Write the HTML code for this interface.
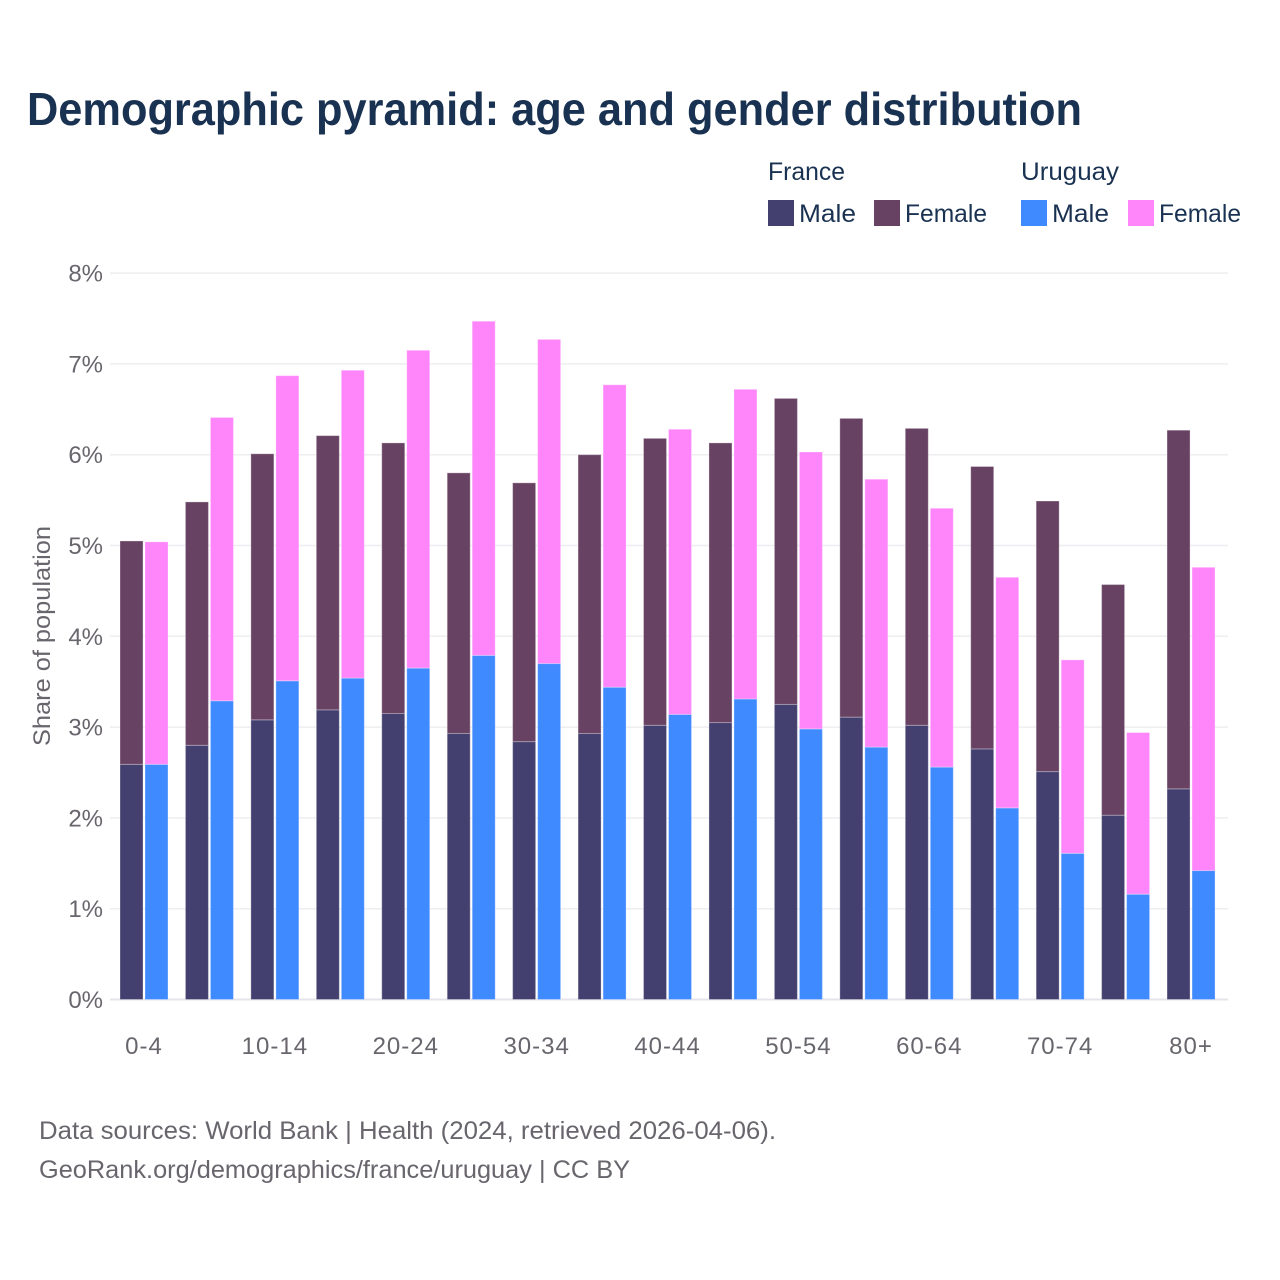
<!DOCTYPE html>
<html lang="en">
<head>
<meta charset="utf-8">
<title>Demographic pyramid</title>
<style>
html,body{margin:0;padding:0;background:#fff;width:1280px;height:1280px;overflow:hidden}
svg{display:block}
text{font-family:"Liberation Sans",sans-serif}
.ink{fill:#1a3252}
.muted{fill:#69656d}
</style>
</head>
<body>
<svg id="chart" width="1280" height="1280" viewBox="0 0 1280 1280" xmlns="http://www.w3.org/2000/svg">
  <rect width="1280" height="1280" fill="#ffffff"/>
  <text class="ink" x="27" y="125" font-size="46" font-weight="700" textLength="1055" lengthAdjust="spacingAndGlyphs">Demographic pyramid: age and gender distribution</text>

  <g>
    <text class="ink" x="768" y="180" font-size="25" textLength="77" lengthAdjust="spacingAndGlyphs">France</text>
    <text class="ink" x="1021" y="180" font-size="25" textLength="98" lengthAdjust="spacingAndGlyphs">Uruguay</text>
    <rect x="768" y="200" width="26" height="26" fill="#43406f"/>
    <text class="ink" x="799" y="222" font-size="25" textLength="57" lengthAdjust="spacingAndGlyphs">Male</text>
    <rect x="874" y="200" width="26" height="26" fill="#684263"/>
    <text class="ink" x="905" y="222" font-size="25" textLength="82" lengthAdjust="spacingAndGlyphs">Female</text>
    <rect x="1021" y="200" width="26" height="26" fill="#408aff"/>
    <text class="ink" x="1052" y="222" font-size="25" textLength="57" lengthAdjust="spacingAndGlyphs">Male</text>
    <rect x="1128" y="200" width="26" height="26" fill="#ff85fa"/>
    <text class="ink" x="1159" y="222" font-size="25" textLength="82" lengthAdjust="spacingAndGlyphs">Female</text>
  </g>

  <g id="grid"></g>
  <g id="y-ticks"></g>
  <text class="muted" transform="translate(50,636) rotate(-90)" text-anchor="middle" font-size="24" textLength="220" lengthAdjust="spacingAndGlyphs">Share of population</text>
  <g id="bars"></g>
  <g id="x-ticks"></g>

  <text class="muted" x="39" y="1139" font-size="25" textLength="737" lengthAdjust="spacingAndGlyphs">Data sources: World Bank | Health (2024, retrieved 2026-04-06).</text>
  <text class="muted" x="39" y="1178" font-size="25" textLength="591" lengthAdjust="spacingAndGlyphs">GeoRank.org/demographics/france/uruguay | CC BY</text>
</svg>
<script>
const ageGroups = ["0-4","5-9","10-14","15-19","20-24","25-29","30-34","35-39","40-44","45-49","50-54","55-59","60-64","65-69","70-74","75-79","80+"];
const franceMale = [2.59,2.80,3.08,3.19,3.15,2.93,2.84,2.93,3.02,3.05,3.25,3.11,3.02,2.76,2.51,2.03,2.32];
const franceFemale = [2.46,2.68,2.93,3.02,2.98,2.87,2.85,3.07,3.16,3.08,3.37,3.29,3.27,3.11,2.98,2.54,3.95];
const uruguayMale = [2.59,3.29,3.51,3.54,3.65,3.79,3.70,3.44,3.14,3.31,2.98,2.78,2.56,2.11,1.61,1.16,1.42];
const uruguayFemale = [2.45,3.12,3.36,3.39,3.50,3.68,3.57,3.33,3.14,3.41,3.05,2.95,2.85,2.54,2.13,1.78,3.34];
const yTickValues = [0,1,2,3,4,5,6,7,8];
const xTickLabels = ["0-4","","10-14","","20-24","","30-34","","40-44","","50-54","","60-64","","70-74","","80+"];

const NS = "http://www.w3.org/2000/svg";
const plotLeft = 110, plotRight = 1228;
const yBase = 999.5, yPerUnit = 90.8;
const groupStart = 120, groupStep = 65.44, barWidth = 23, barGap = 2;

function yScale(v) { return yBase - v * yPerUnit; }
function xScale(i, seriesIndex) { return groupStart + i * groupStep + seriesIndex * (barWidth + barGap); }

const gridG = document.getElementById("grid");
const yTicksG = document.getElementById("y-ticks");
yTickValues.forEach(function (v) {
  const line = document.createElementNS(NS, "line");
  
  
  line.setAttribute("x1", plotLeft);
  line.setAttribute("x2", plotRight);
  line.setAttribute("y1", yScale(v));
  line.setAttribute("y2", yScale(v));
  line.setAttribute("stroke", v === 0 ? "#e6e4ea" : "#eeeef1");
  line.setAttribute("stroke-width", v === 0 ? 2 : 1.5);
  gridG.appendChild(line);

  const t = document.createElementNS(NS, "text");
  
  
  t.setAttribute("class", "muted");
  t.setAttribute("x", 103);
  t.setAttribute("y", yScale(v) + 8.5);
  t.setAttribute("text-anchor", "end");
  t.setAttribute("font-size", "24");
  t.textContent = v + "%";
  yTicksG.appendChild(t);
});

function addBar(parent, x, v0, v1, fill) {
  const r = document.createElementNS(NS, "rect");
  
  
  r.setAttribute("x", x);
  r.setAttribute("y", yScale(v1));
  r.setAttribute("width", barWidth);
  r.setAttribute("height", yScale(v0) - yScale(v1));
  r.setAttribute("fill", fill);
  r.setAttribute("stroke", "#ffffff");
  r.setAttribute("stroke-opacity", "0.3");
  r.setAttribute("stroke-width", "1");
  parent.appendChild(r);
}

const barsG = document.getElementById("bars");
ageGroups.forEach(function (age, i) {
  const g = document.createElementNS(NS, "g");
  
  
  addBar(g, xScale(i, 0), 0, franceMale[i], "#43406f");
  addBar(g, xScale(i, 0), franceMale[i], franceMale[i] + franceFemale[i], "#684263");
  addBar(g, xScale(i, 1), 0, uruguayMale[i], "#408aff");
  addBar(g, xScale(i, 1), uruguayMale[i], uruguayMale[i] + uruguayFemale[i], "#ff85fa");
  barsG.appendChild(g);
});

const xTicksG = document.getElementById("x-ticks");
xTickLabels.forEach(function (label, i) {
  if (!label) return;
  const t = document.createElementNS(NS, "text");
  
  
  t.setAttribute("class", "muted");
  t.setAttribute("x", xScale(i, 0) + barWidth + barGap / 2);
  t.setAttribute("y", 1054);
  t.setAttribute("text-anchor", "middle");
  t.setAttribute("font-size", "24");
  t.setAttribute("letter-spacing", "1");
  t.textContent = label;
  xTicksG.appendChild(t);
});
</script>
</body>
</html>
